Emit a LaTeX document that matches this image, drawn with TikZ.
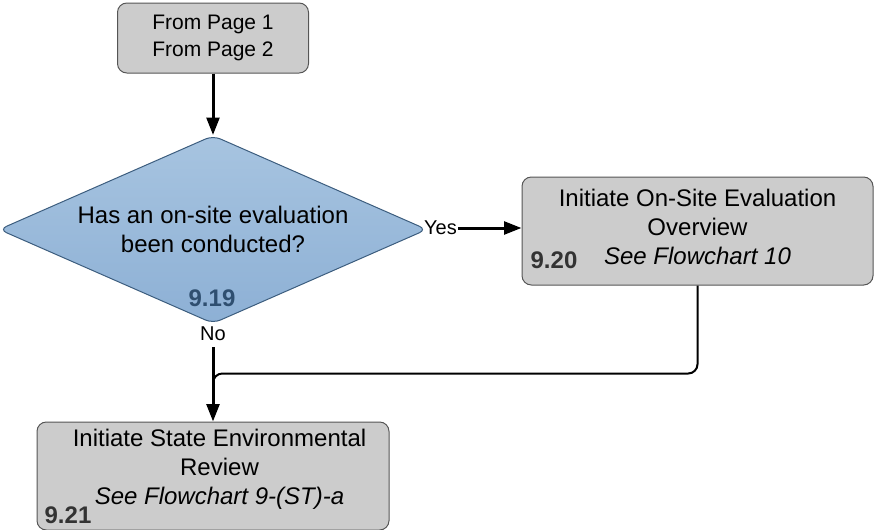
\documentclass[tikz,border=0pt]{standalone}
\usepackage{fontspec}
\setmainfont{Liberation Sans}
\usetikzlibrary{shapes.geometric,arrows.meta}
\definecolor{boxgray}{HTML}{CCCCCC}
\definecolor{boxline}{HTML}{555555}
\definecolor{dectop}{HTML}{A7C4E0}
\definecolor{decbot}{HTML}{8DB0D5}
\definecolor{decline}{HTML}{3C5D7E}
\definecolor{decnum}{HTML}{2F4F70}
\definecolor{numgray}{HTML}{333333}
\newcommand{\bigtxt}{\fontsize{18}{21.75}\selectfont}
\newcommand{\smalltxt}{\fontsize{15.75}{20.25}\selectfont}

\begin{document}
\begin{tikzpicture}[x=0.75pt,y=-0.75pt]
  \tikzset{gbox/.style={draw=boxline,line width=0.75pt,fill=boxgray,rounded corners=7pt,inner sep=0pt},
           dec/.style={diamond,aspect=2.26,draw=decline,line width=0.75pt,top color=dectop,bottom color=decbot,
                       rounded corners=6pt,inner sep=0pt,minimum width=321pt,minimum height=141pt,
                       align=center,font=\bigtxt},
           txt/.style={align=center,font=\bigtxt,inner sep=0pt},
           num/.style={font=\bigtxt\bfseries,text=numgray,inner sep=0pt},
           flow/.style={line width=2.25pt,-{Triangle[length=13pt,width=9.5pt]}},
           link/.style={line width=1.5pt,rounded corners=7pt},
           lbl/.style={font=\fontsize{15}{18}\selectfont,inner xsep=1pt,inner ysep=5pt}}
  \useasboundingbox (0,0) rectangle (874,529);

  \node[gbox,minimum width=143.25pt,minimum height=52.5pt,font=\smalltxt,align=center] (src) at (213,38) {From Page 1\\From Page 2};
  \node[dec] (q) at (213,229.5) {Has an on-site evaluation\\been conducted?};
  \node[num,text=decnum] (qnum) at (212,298.5) {9.19};

  \node[gbox,minimum width=263.25pt,minimum height=81pt] (ovr) at (697.5,231) {};
  \node[txt] (ovrtxt) at (697.5,227) {Initiate On-Site Evaluation\\Overview\\\textit{See Flowchart 10}};
  \node[num] (ovrnum) at (554,260) {9.20};

  \node[gbox,minimum width=264pt,minimum height=81pt] (ser) at (213,476) {};
  \node[txt] (sertxt) at (219.5,469) {Initiate State Environmental\\Review\\\textit{See Flowchart 9-(ST)-a}};
  \node[num] (sernum) at (68,515) {9.21};

  \node[lbl] (yes) at (440.5,228) {Yes};
  \node[lbl] (no) at (213,333.5) {No};
  \coordinate (merge) at (213,400);

  \draw[flow] (src.south) -- (q.north);
  \draw[flow] (yes.east) -- (yes.east -| ovr.west);
  \draw[flow] (no) -- (ser);
  \draw[link] (ovr.south) -- ++(0,88) -| (merge);
\end{tikzpicture}
\end{document}
